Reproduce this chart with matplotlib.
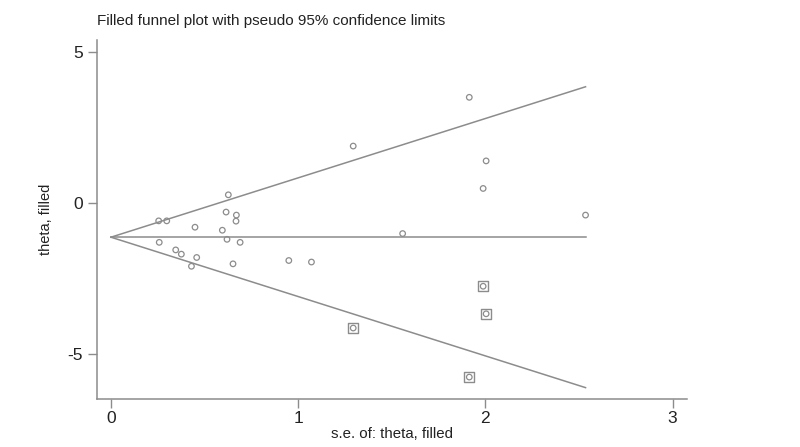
import numpy as np
import matplotlib
matplotlib.use("Agg")
import matplotlib.pyplot as plt

plt.rcParams['font.family'] = ['Liberation Sans', 'DejaVu Sans']

# observed studies (s.e., theta)
se_obs = [0.255, 0.298, 0.258, 0.346, 0.376, 0.43, 0.458, 0.449, 0.615, 0.67,
          0.668, 0.595, 0.62, 0.69, 0.652, 0.95, 0.627, 1.294, 2.004, 1.988,
          1.558, 1.071, 1.914, 2.535]
theta_obs = [-0.59, -0.59, -1.30, -1.55, -1.69, -2.09, -1.80, -0.80, -0.30, -0.40,
             -0.60, -0.90, -1.20, -1.30, -2.01, -1.90, 0.27, 1.88, 1.39, 0.48,
             -1.01, -1.95, 3.49, -0.40]

# filled (imputed) studies
se_fill = [1.294, 1.988, 2.004, 1.914]
theta_fill = [-4.13, -2.75, -3.66, -5.75]

pooled = -1.13
se_max = 2.535

gray = "#8c8c8c"
txt = "#222222"

fig = plt.figure(figsize=(8, 4.47), dpi=100)
ax = fig.add_axes([0.1216, 0.1063, 0.7367, 0.804])

se_line = np.array([0, se_max])
ax.plot(se_line, pooled + 1.96 * se_line, color=gray, lw=1.1)
ax.plot(se_line, pooled - 1.96 * se_line, color=gray, lw=1.1)
ax.plot(se_line, [pooled, pooled], color=gray, lw=1.1)

ax.scatter(se_obs, theta_obs, s=16, facecolors="none", edgecolors=gray, linewidths=0.9)
ax.scatter(se_fill, theta_fill, s=16, facecolors="none", edgecolors=gray, linewidths=0.9)
ax.scatter(se_fill, theta_fill, s=48, marker="s", facecolors="none", edgecolors=gray, linewidths=1.0)

ax.set_xlim(-0.073, 3.075)
ax.set_ylim(-6.49, 5.38)
ax.set_xticks([0, 1, 2, 3])
ax.set_yticks([-5, 0, 5])
ax.set_yticklabels(["-5", "0", "5"])

for s in ["top", "right"]:
    ax.spines[s].set_visible(False)
for s in ["left", "bottom"]:
    ax.spines[s].set_color(gray)
    ax.spines[s].set_linewidth(1.1)
ax.tick_params(colors=gray, labelcolor=txt, labelsize=12.5, length=6.5, width=1.0)
ax.tick_params(axis="x", pad=1.5)
ax.tick_params(axis="y", pad=4)

ax.set_xlabel("s.e. of: theta, filled", fontsize=10.8, color=txt, labelpad=1)
ax.set_ylabel("theta, filled", fontsize=10.5, color=txt, labelpad=10)
fig.text(0.1216, 0.953, "Filled funnel plot with pseudo 95% confidence limits",
         fontsize=11, color=txt, ha="left", va="center")

fig.savefig("out.png", dpi=100)
